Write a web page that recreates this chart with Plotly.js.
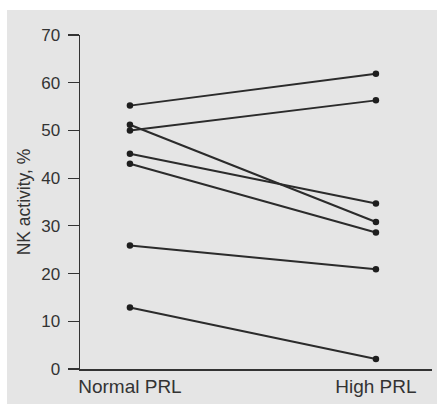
<!DOCTYPE html>
<html>
<head>
<meta charset="utf-8">
<script src="https://cdn.plot.ly/plotly-3.0.1.min.js"></script>
<style>
  html, body { margin: 0; padding: 0; background: #ffffff; width: 437px; height: 404px; overflow: hidden; }
  #chart { position: absolute; left: 7px; top: 10px; width: 430px; height: 394px; }
</style>
</head>
<body>
<div id="chart"></div>
<script>
const categories = ["Normal PRL", "High PRL"];
const normalPRL = [55.2, 50.0, 51.2, 45.1, 43.0, 25.9, 12.9];
const highPRL   = [61.9, 56.3, 30.8, 34.7, 28.6, 20.9, 2.1];
const yTicks = [0, 10, 20, 30, 40, 50, 60, 70];

const traces = normalPRL.map((v, i) => ({
  type: "scatter",
  mode: "lines+markers",
  x: [0, 1],
  y: [v, highPRL[i]],
  line: { color: "#2b2b2b", width: 2 },
  marker: { color: "#1e1e1e", size: 6.5 },
  showlegend: false,
  hoverinfo: "skip"
}));

const layout = {
  width: 430,
  height: 394,
  margin: { l: 73, r: 5, t: 24.5, b: 35 },
  paper_bgcolor: "#e5e5e5",
  plot_bgcolor: "#e5e5e5",
  font: { family: "Liberation Sans, Arial, sans-serif", color: "#333333" },
  xaxis: {
    range: [-0.203, 1.228],
    tickvals: [0, 1],
    ticktext: categories,
    showgrid: false,
    zeroline: false,
    showline: true,
    linecolor: "#333333",
    linewidth: 1.5,
    ticks: "",
    tickfont: { size: 19, color: "#333333" }
  },
  yaxis: {
    range: [0, 70],
    tickvals: yTicks,
    showgrid: false,
    zeroline: false,
    showline: true,
    linecolor: "#333333",
    linewidth: 1.5,
    ticks: "outside",
    ticklen: 11,
    tickwidth: 1.2,
    tickcolor: "#333333",
    ticklabelstandoff: 4,
    tickfont: { size: 17, color: "#333333" },
    title: { text: "NK activity, %", font: { size: 17.5, color: "#333333" }, standoff: 6 }
  }
};

Plotly.newPlot("chart", traces, layout, { displayModeBar: false, staticPlot: true });
</script>
</body>
</html>
